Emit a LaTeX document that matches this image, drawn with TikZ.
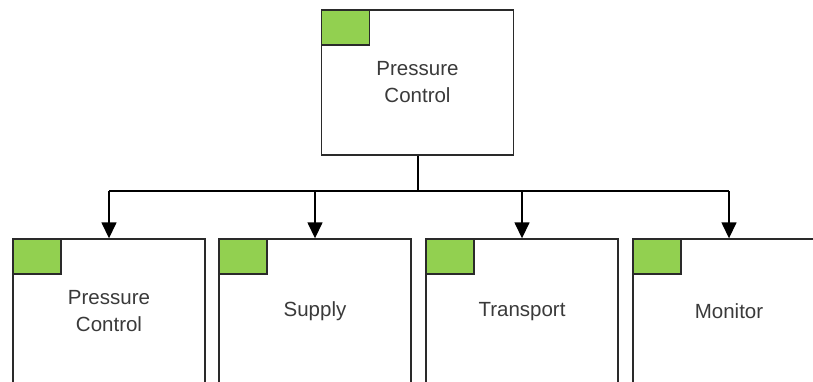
\documentclass[tikz,border=0pt]{standalone}
\usepackage{fontspec}
\setmainfont{Liberation Sans}
\usetikzlibrary{arrows.meta}
\definecolor{tagGreen}{HTML}{92D050}
\definecolor{labelGray}{HTML}{3A3A3A}
\definecolor{frameGray}{HTML}{2A2A2A}
\begin{document}
\begin{tikzpicture}[x=1pt,y=-1pt,
  unitbox/.style={draw=frameGray, line width=1.4pt, fill=white, minimum width=192pt,
    minimum height=145pt, inner sep=0pt, align=center, text=labelGray,
    font=\fontsize{20.5}{27}\selectfont},
  tag/.style={draw=frameGray, line width=1.2pt, fill=tagGreen, minimum width=48pt,
    minimum height=35pt, inner sep=0pt, anchor=north west},
  link/.style={line width=1.5pt, black},
  feed/.style={link, -{Triangle[width=15pt,length=16pt]}}]
  \useasboundingbox (0,0) rectangle (813,381);
  \clip (0,0) rectangle (813,381);
  % parent block
  \node[unitbox] (top) at (417.5,82.5) {Pressure\\Control};
  \node[tag] (toptag) at (top.north west) {};
  % child blocks
  \node[unitbox] (c1) at (109,311.5) {Pressure\\Control};
  \node[unitbox] (c2) at (315,311.5) {Supply};
  \node[unitbox] (c3) at (522,311.5) {Transport};
  \node[unitbox] (c4) at (729,311.5) {Monitor};
  \foreach \n in {c1,c2,c3,c4} \node[tag] (\n tag) at (\n.north west) {};
  % distribution bus
  \coordinate (bus) at (418,191);
  \draw[link, line width=2.6pt] (top.south -| bus) -- (bus);
  \draw[link] (c1.north |- bus) -- (c4.north |- bus);
  \foreach \n in {c1,c2,c3,c4} \draw[feed] (\n.north |- bus) -- (\n.north);
\end{tikzpicture}
\end{document}
